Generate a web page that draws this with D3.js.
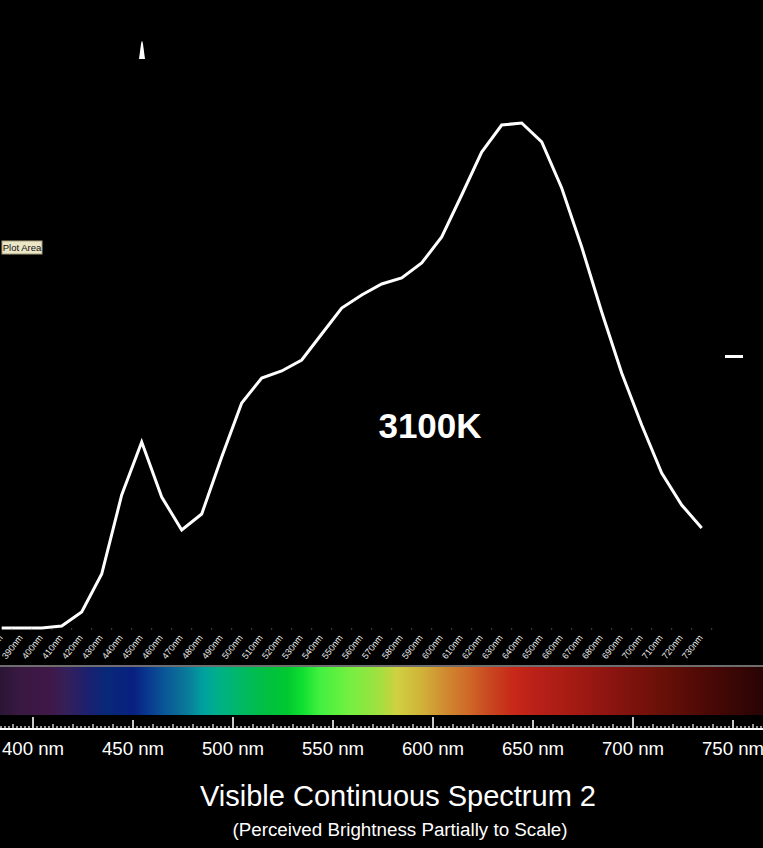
<!DOCTYPE html>
<html>
<head>
<meta charset="utf-8">
<script src="https://cdn.jsdelivr.net/npm/d3@7"></script>
<style>
  html, body { margin: 0; padding: 0; background: #000; }
  svg { display: block; }
</style>
</head>
<body>
<svg id="chart" width="763" height="848"></svg>
<script>
// wavelength categories of the curve (nm)
const wavelengths = [380, 390, 400, 410, 420, 430, 440, 450, 460, 470, 480, 490,
  500, 510, 520, 530, 540, 550, 560, 570, 580, 590, 600, 610, 620, 630, 640,
  650, 660, 670, 680, 690, 700, 710, 720, 730];
// relative intensity of the 3100K source
const intensity = [0.2, 0.2, 0.2, 0.6, 3.4, 11, 26.8, 37.4, 26.4, 19.8, 23, 34.4,
  45.2, 50.2, 51.6, 53.8, 59, 64.2, 66.8, 69, 70.2, 73.2, 78.4, 86.8, 95.4, 100.8, 101.2,
  97.4, 88.2, 76.4, 63.4, 51.2, 40.8, 31.2, 24.8, 20.2];

// ruler under the colour strip
const rulerLabels = [400, 450, 500, 550, 600, 650, 700, 750];
// colour strip stops: wavelength (nm) and colour
const stripNm = [383, 392, 408, 417, 428, 437, 450, 458, 467, 477, 485, 493, 503,
  517, 527, 535, 543, 557, 573, 582, 595, 607, 618, 628, 640, 652, 667, 690, 715, 740, 765];
const stripColors = ["#2a1535", "#381840", "#401848", "#35205a", "#1a2070", "#082878",
  "#082080", "#0a3a90", "#0a5a98", "#0a7a9a", "#00a0a0", "#00b088", "#00b868",
  "#00c040", "#00c830", "#10e030", "#40f040", "#70f040", "#a0e040", "#d0d040",
  "#d0b038", "#d08830", "#d06828", "#c84820", "#c82818", "#b82018", "#a81c14",
  "#8a1410", "#681008", "#480806", "#280404"];

const svg = d3.select("#chart");
const width = +svg.attr("width");
const font = "Liberation Sans, Arial, sans-serif";

svg.append("rect").attr("width", width).attr("height", 848).attr("fill", "#000");

// ---- curve chart ----
const x = d3.scalePoint().domain(wavelengths).range([1.7, 701.7]);
const y = d3.scaleLinear().domain([0, 100]).range([629, 129]);
const step = x.step();

const line = d3.line()
  .x((d, i) => x(wavelengths[i]))
  .y(d => y(d));

svg.append("path")
  .datum(intensity)
  .attr("d", line)
  .attr("fill", "none")
  .attr("stroke", "#fff")
  .attr("stroke-width", 3)
  .attr("stroke-linejoin", "miter");

// category boundary dots
svg.append("g")
  .selectAll("rect")
  .data(wavelengths)
  .join("rect")
  .attr("x", d => x(d) + step / 2 - 0.5)
  .attr("y", 628.5)
  .attr("width", 1)
  .attr("height", 1)
  .attr("fill", "#888");

// rotated category labels
svg.append("g")
  .selectAll("text")
  .data(wavelengths)
  .join("text")
  .attr("transform", d => `translate(${x(d) - 1},636) rotate(-52)`)
  .attr("text-anchor", "end")
  .attr("dy", "0.35em")
  .attr("fill", "#eee")
  .attr("font-family", font)
  .attr("font-size", "9px")
  .text(d => d + "nm");

// stray marks left in the original picture
svg.append("path")
  .attr("d", "M139,59 L141,44 Q142,38 143,44 L145,59 Z")
  .attr("fill", "#fff");
svg.append("rect")
  .attr("x", 725).attr("y", 355).attr("width", 18).attr("height", 3)
  .attr("fill", "#fff");

// "Plot Area" tooltip
const tip = svg.append("g").attr("transform", "translate(2,241)");
tip.append("rect")
  .attr("width", 40).attr("height", 13)
  .attr("fill", "#eae6c6").attr("stroke", "#a8a080").attr("stroke-width", 1);
tip.append("text")
  .attr("x", 20).attr("y", 9.8)
  .attr("text-anchor", "middle")
  .attr("fill", "#111")
  .attr("font-family", font)
  .attr("font-size", "9.5px")
  .text("Plot Area");

// colour temperature label
svg.append("text")
  .attr("x", 430).attr("y", 438)
  .attr("text-anchor", "middle")
  .attr("fill", "#fff")
  .attr("font-family", font)
  .attr("font-weight", "bold")
  .attr("font-size", "35px")
  .text("3100K");

// ---- colour strip ----
const sx = d3.scaleLinear().domain([400, 750]).range([33, 733]);

const defs = svg.append("defs");
const grad = defs.append("linearGradient")
  .attr("id", "spectrum")
  .attr("gradientUnits", "userSpaceOnUse")
  .attr("x1", 0).attr("x2", width).attr("y1", 0).attr("y2", 0);
grad.selectAll("stop")
  .data(stripNm)
  .join("stop")
  .attr("offset", d => Math.max(0, Math.min(1, sx(d) / width)))
  .attr("stop-color", (d, i) => stripColors[i]);

svg.append("rect")
  .attr("x", 0).attr("y", 665).attr("width", width).attr("height", 2)
  .attr("fill", "#6e6e6e");
svg.append("rect")
  .attr("x", 0).attr("y", 667).attr("width", width).attr("height", 48)
  .attr("fill", "url(#spectrum)");

// ruler
svg.append("rect")
  .attr("x", 0).attr("y", 728).attr("width", width).attr("height", 2)
  .attr("fill", "#fff");

const tickNm = d3.range(384, 766, 2);
svg.append("g")
  .selectAll("line")
  .data(tickNm)
  .join("line")
  .attr("x1", d => sx(d)).attr("x2", d => sx(d))
  .attr("y1", d => d % 100 === 0 ? 717 : d % 50 === 0 ? 720 : d % 10 === 0 ? 724 : 726)
  .attr("y2", 729)
  .attr("stroke", "#fff")
  .attr("stroke-width", d => d % 50 === 0 ? 1.6 : 1.2);

svg.append("g")
  .selectAll("text")
  .data(rulerLabels)
  .join("text")
  .attr("x", d => sx(d))
  .attr("y", 755)
  .attr("text-anchor", "middle")
  .attr("fill", "#fff")
  .attr("font-family", font)
  .attr("font-size", "19px")
  .attr("textLength", 62)
  .attr("lengthAdjust", "spacingAndGlyphs")
  .text(d => d + " nm");

// titles
svg.append("text")
  .attr("x", 398).attr("y", 806)
  .attr("text-anchor", "middle")
  .attr("fill", "#fff")
  .attr("font-family", font)
  .attr("font-size", "29px")
  .text("Visible Continuous Spectrum 2");

svg.append("text")
  .attr("x", 400).attr("y", 836)
  .attr("text-anchor", "middle")
  .attr("fill", "#fff")
  .attr("font-family", font)
  .attr("font-size", "18.8px")
  .text("(Perceived Brightness Partially to Scale)");
</script>
</body>
</html>
